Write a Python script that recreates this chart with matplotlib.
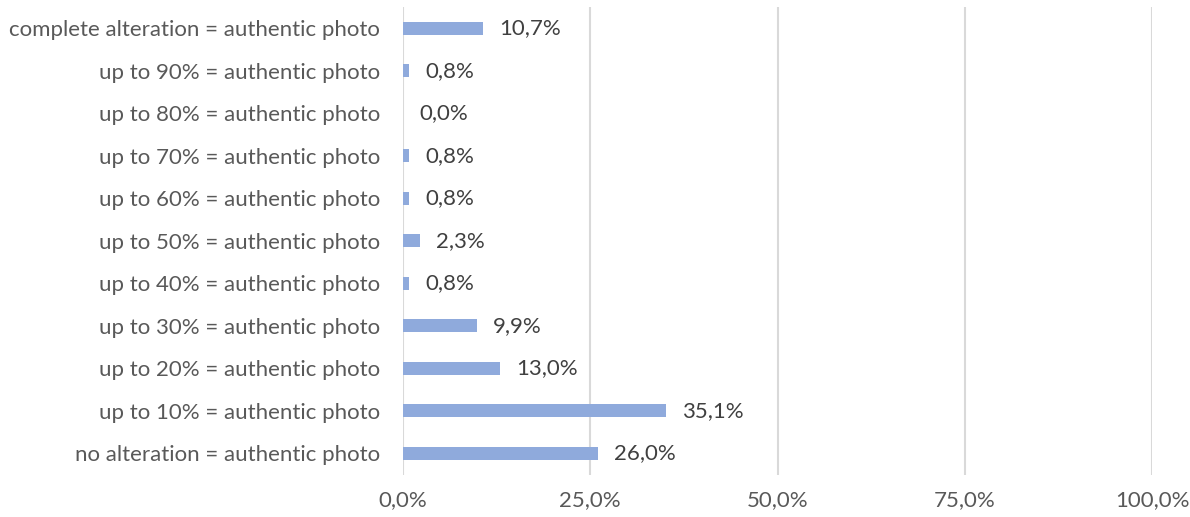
import matplotlib
matplotlib.use("Agg")
import matplotlib.pyplot as plt
from matplotlib.ticker import FuncFormatter
from matplotlib.transforms import offset_copy

plt.rcParams['font.family'] = ['Lato', 'DejaVu Sans']

categories = [
    "no alteration = authentic photo",
    "up to 10% = authentic photo",
    "up to 20% = authentic photo",
    "up to 30% = authentic photo",
    "up to 40% = authentic photo",
    "up to 50% = authentic photo",
    "up to 60% = authentic photo",
    "up to 70% = authentic photo",
    "up to 80% = authentic photo",
    "up to 90% = authentic photo",
    "complete alteration = authentic photo",
]
values = [26.0, 35.1, 13.0, 9.9, 0.8, 2.3, 0.8, 0.8, 0.0, 0.8, 10.7]
xticks = [0, 25, 50, 75, 100]

fig = plt.figure(figsize=(11.9, 5.17), dpi=100)
ax = fig.add_axes([0.3387, 0.0822, 0.6294, 0.9043])

ypos = list(range(len(categories)))
ax.barh(ypos, values, height=0.31, color="#8FAADC", zorder=3)

txt_off = offset_copy(ax.transData, fig=fig, x=16, y=0, units='dots')
for y, v in zip(ypos, values):
    ax.text(v, y, f"{v:.1f}%".replace(".", ","), transform=txt_off,
            va="center", ha="left", fontsize=16, color="#404040")

ax.set_xlim(0, 100)
ax.set_ylim(-0.5, len(categories) - 0.5)
ax.set_xticks(xticks)
ax.xaxis.set_major_formatter(FuncFormatter(lambda x, p: f"{x:.1f}%".replace(".", ",")))
ax.set_yticks(ypos)
ax.set_yticklabels(categories)
ax.tick_params(axis="both", length=0, labelsize=16, labelcolor="#595959")
ax.tick_params(axis="y", pad=16.5)
ax.tick_params(axis="x", pad=11)
ax.grid(axis="x", color="#D9D9D9", linewidth=1.5, zorder=0)
for s in ax.spines.values():
    s.set_visible(False)

fig.savefig("out.png", dpi=100)
